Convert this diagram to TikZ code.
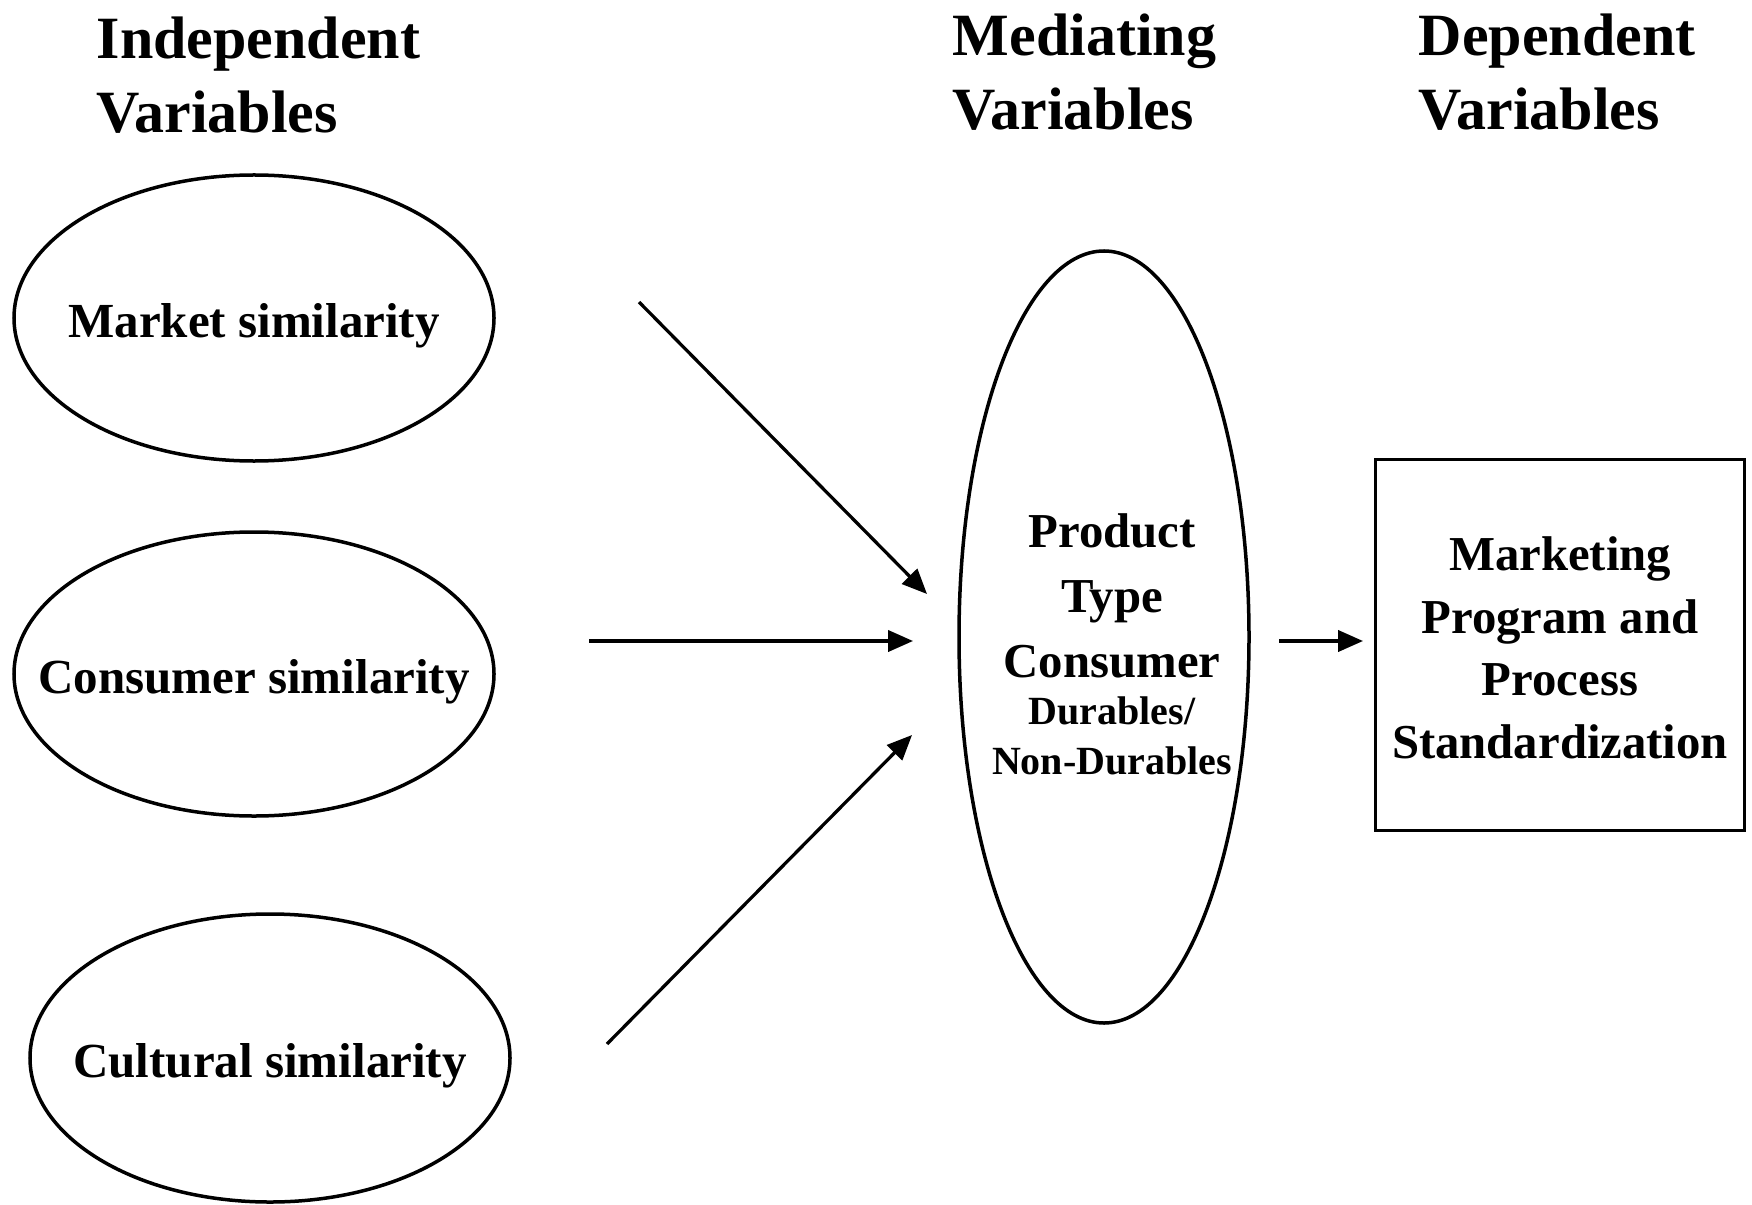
\documentclass[tikz,border=0pt]{standalone}
\usepackage{fontspec}
\setmainfont{Liberation Serif}
\usetikzlibrary{shapes.geometric,arrows.meta,positioning}

\begin{document}
\begin{tikzpicture}[x=0.4pt,y=-0.4pt,line width=1.4pt,
  varoval/.style={draw,ellipse,inner sep=0pt},
  headtxt/.style={anchor=north west,align=left,inner sep=0pt,
    font=\fontsize{24}{29.6}\selectfont\bfseries},
  vartxt/.style={inner sep=0pt,yshift=-3pt,font=\fontsize{19.6}{24}\selectfont\bfseries},
  midtxt/.style={inner sep=0pt,align=center,font=\fontsize{19.5}{26}\selectfont\bfseries},
  smalltxt/.style={inner sep=0pt,align=center,font=\fontsize{16}{20}\selectfont\bfseries},
  arr/.style={-{Triangle[length=10pt,width=8.5pt]},line width=1.3pt}]
  \useasboundingbox (0,0) rectangle (1752,1205);

  \node[headtxt] (indep) at (95,15) {Independent\\Variables};
  \node[headtxt] (medi) at (951,12) {Mediating\\Variables};
  \node[headtxt] (depen) at (1417,12) {Dependent\\Variables};

  \node[varoval,minimum width=192pt,minimum height=114.4pt] (mkt) at (254,318) {};
  \node[varoval,minimum width=192pt,minimum height=113.6pt] (cons) at (254,674) {};
  \node[varoval,minimum width=192pt,minimum height=115.2pt] (cult) at (270,1058) {};
  \node[vartxt] (mkttxt) at (mkt) {Market similarity};
  \node[vartxt] (constxt) at (cons) {Consumer similarity};
  \node[vartxt] (culttxt) at (cult) {Cultural similarity};

  \node[varoval,minimum width=116pt,minimum height=308.8pt] (prod) at (1104,637) {};
  \node[midtxt,anchor=north] (prodtxt) at (1112,512) {Product\\Type\\Consumer};
  \node[smalltxt,below=6pt of prodtxt] (durtxt) {Durables/\\Non-Durables};

  \node[draw,minimum width=147.6pt,minimum height=148.4pt] (std) at (1560,645) {};
  \node[midtxt,font=\fontsize{19.5}{25}\selectfont\bfseries] (stdtxt) at (1560,648)
    {Marketing\\Program and\\Process\\Standardization};

  \coordinate (mktout) at (639,302);
  \coordinate (mktin) at (927,594);
  \coordinate (consout) at (589,641);
  \coordinate (consin) at (913,641);
  \coordinate (cultout) at (607,1044);
  \coordinate (cultin) at (912,735);
  \coordinate (prodout) at (1279,641);
  \coordinate (stdin) at (1363,641);
  \draw[arr] (mktout) -- (mktin);
  \draw[arr] (consout) -- (consin);
  \draw[arr] (cultout) -- (cultin);
  \draw[arr] (prodout) -- (stdin);
\end{tikzpicture}
\end{document}
